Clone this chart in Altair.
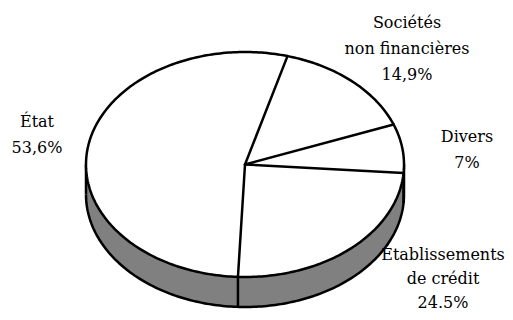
import altair as alt
import numpy as np
import pandas as pd

# ---- data ----
categories = ["Sociétés non financières", "Divers", "Établissements de crédit", "État"]
shares = [14.9, 7.0, 24.5, 53.6]
label_text = ["Sociétés\nnon financières\n14,9%", "Divers\n7%",
              "Établissements\nde crédit\n24.5%", "État\n53,6%"]

# ---- layout (page pixel space) ----
CX, CY, RX, RY, DEPTH = 245, 164.5, 159, 112.5, 30
START = 74.5  # start angle of the first slice, degrees counter-clockwise from 3 o'clock
label_x = [407, 467, 443, 37]
label_y = [28, 142, 260, 127]
label_lh = [26, 26, 24, 26]
STROKE = 2.5
GRAY = "#808080"
FONT = "DejaVu Serif"
FSIZE = 16

# ---- derived geometry ----
cum = np.cumsum(shares) / sum(shares) * 360.0
bounds = np.concatenate([[START], START - cum[:-1]])

def ex(t):
    return CX + RX * np.cos(np.radians(t))

def ey(t):
    return CY - RY * np.sin(np.radians(t))

t_half = np.linspace(0, 180, 181)
top_fill = pd.DataFrame({"x": ex(t_half), "y": ey(t_half), "y2": CY + (CY - ey(t_half))})
t_low = np.linspace(180, 360, 181)
side = pd.DataFrame({"x": ex(t_low), "y": ey(t_low), "y2": ey(t_low) + DEPTH, "i": np.arange(181)})
t_full = np.linspace(0, 360, 361)
outline = pd.DataFrame({"x": ex(t_full), "y": ey(t_full), "i": np.arange(361)})
radial = pd.DataFrame({"x": [CX] * len(bounds), "y": [CY] * len(bounds),
                       "x2": ex(bounds), "y2": ey(bounds)})
vert_t = np.array([180.0, 360.0] + [b % 360 for b in bounds if 180 < (b % 360) < 360])
verts = pd.DataFrame({"x": ex(vert_t), "y": ey(vert_t), "y2": ey(vert_t) + DEPTH})
labels = pd.DataFrame({"x": label_x, "y": label_y, "text": label_text, "cat": categories})

xs = alt.Scale(domain=[8, 505], nice=False, zero=False)
ys = alt.Scale(domain=[8, 312], nice=False, zero=False, reverse=True)
X = lambda f="x": alt.X(f"{f}:Q", scale=xs, axis=None)
Y = lambda f="y": alt.Y(f"{f}:Q", scale=ys, axis=None)

side_area = alt.Chart(side).mark_area(color=GRAY, opacity=1).encode(x=X(), y=Y(), y2=alt.Y2("y2:Q"))
side_bottom = alt.Chart(side).mark_line(color="black", strokeWidth=STROKE).encode(
    x=X(), y=Y("y2"), order=alt.Order("i:Q"))
top_area = alt.Chart(top_fill).mark_area(color="white", opacity=1).encode(x=X(), y=Y(), y2=alt.Y2("y2:Q"))
top_line = alt.Chart(outline).mark_line(color="black", strokeWidth=STROKE).encode(
    x=X(), y=Y(), order=alt.Order("i:Q"))
vert_rules = alt.Chart(verts).mark_rule(color="black", strokeWidth=STROKE).encode(
    x=X(), y=Y(), y2=alt.Y2("y2:Q"))
radial_rules = alt.Chart(radial).mark_rule(color="black", strokeWidth=STROKE, strokeCap="round").encode(
    x=X(), y=Y(), x2=alt.X2("x2:Q"), y2=alt.Y2("y2:Q"))

texts = []
for i in range(len(categories)):
    texts.append(alt.Chart(labels.iloc[[i]]).mark_text(
        font=FONT, fontSize=FSIZE, align="center", baseline="alphabetic",
        lineBreak="\n", lineHeight=label_lh[i], color="black").encode(x=X(), y=Y(), text="text:N"))

chart = alt.layer(side_area, side_bottom, vert_rules, top_area, top_line, radial_rules, *texts).properties(
    width=497, height=304, padding=0,
    autosize=alt.AutoSizeParams(type="none"),
    background="white",
).configure_view(stroke=None)

chart.save("out.html", embed_options={"renderer": "svg", "actions": False})
